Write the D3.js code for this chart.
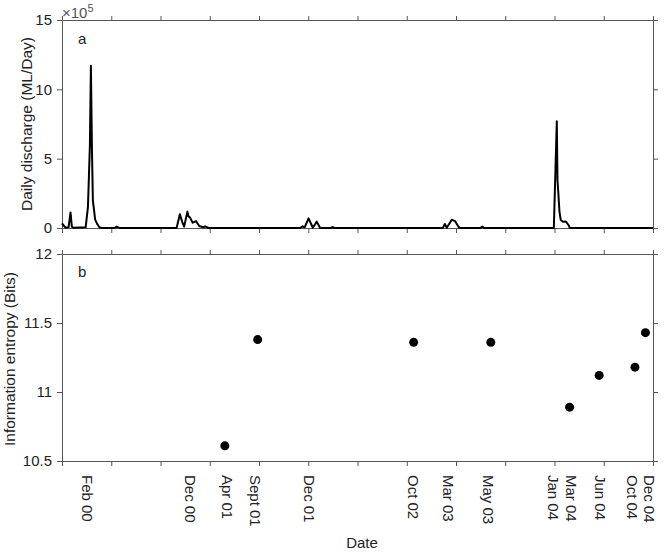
<!DOCTYPE html>
<html>
<head>
<meta charset="utf-8">
<script src="https://cdn.jsdelivr.net/npm/d3@7"></script>
<style>
  body { margin: 0; background: #fff; }
  svg { font-family: "Liberation Sans", Arial, sans-serif; }
  .axis path, .axis line { stroke: #555; }
</style>
</head>
<body>
<div id="graphicContainer"></div>
<script>
// discharge trace, day index from start of record, value in 1e5 ML/day
var qDays = [0, 6, 12, 20, 26, 30, 34, 72, 79, 85, 88, 91, 94, 101, 107, 114, 120,
  160, 167, 174, 349, 359, 366, 372, 382, 385, 390, 398, 408, 418, 430, 436, 446,
  725, 733, 739, 751, 764, 776, 786, 818, 824, 830,
  1160, 1166, 1172, 1187, 1197, 1207, 1212, 1274, 1280, 1286,
  1498, 1507, 1509, 1512, 1515, 1519, 1526, 1535, 1543, 1547, 1800]
var qVals = [0.34, 0.15, 0.02, 0.05, 1.12, 0.1, 0.02, 0.05, 1.5, 6, 11.7, 6, 2.0, 0.6, 0.3, 0.05, 0,
  0, 0.1, 0, 0, 0.99, 0.45, 0.1, 1.18, 0.85, 0.75, 0.38, 0.5, 0.14, 0.05, 0.12, 0,
  0, 0.12, 0.05, 0.70, 0.02, 0.46, 0, 0, 0.07, 0,
  0, 0.29, 0.02, 0.6, 0.5, 0.1, 0, 0, 0.1, 0,
  0, 7.7, 3.5, 2.4, 1.2, 0.58, 0.45, 0.46, 0.2, 0, 0]

// date labels on the shared x axis
var dateLabels = ["Feb 00", "Dec 00", "Apr 01", "Sept 01", "Dec 01", "Oct 02", "Mar 03",
  "May 03", "Jan 04", "Mar 04", "Jun 04", "Oct 04", "Dec 04"]
var labelDays = [76, 390, 503, 590, 754, 1069, 1176, 1297, 1495, 1552, 1638, 1736, 1790]

// information entropy points
var entropyDays = [496, 596, 1071, 1306, 1546, 1636, 1745, 1777]
var entropyBits = [10.61, 11.38, 11.36, 11.36, 10.89, 11.12, 11.18, 11.43]

var qTicks = [0, 5, 10, 15]
var hTicks = [10.5, 11, 11.5, 12]
var xTicks = d3.range(0, 1801, 150)

var width = 666, height = 555

var svg = d3.select("#graphicContainer").append("svg")
  .attr("width", width)
  .attr("height", height)

var x = d3.scaleLinear().domain([0, 1800]).range([62, 653])
var yQ = d3.scaleLinear().domain([0, 15]).range([228, 20])
var yH = d3.scaleLinear().domain([10.5, 12]).range([461, 254])

function frame(y, ticks, fmt) {
  var top = y.range()[1], bottom = y.range()[0]
  svg.append("g").attr("class", "axis")
    .attr("transform", `translate(0,${bottom})`)
    .call(d3.axisBottom(x).tickValues(xTicks).tickFormat("").tickSize(5).tickSizeOuter(0))
  svg.append("g").attr("class", "axis")
    .attr("transform", `translate(0,${top})`)
    .call(d3.axisTop(x).tickValues(xTicks).tickFormat("").tickSize(4).tickSizeOuter(0))
  svg.append("g").attr("class", "axis")
    .attr("transform", `translate(${x.range()[1]},0)`)
    .call(d3.axisRight(y).tickValues(ticks).tickFormat("").tickSize(5).tickSizeOuter(0))
  var left = svg.append("g").attr("class", "axis")
    .attr("transform", `translate(${x.range()[0]},0)`)
    .call(d3.axisLeft(y).tickValues(ticks).tickFormat(fmt).tickSize(5).tickSizeOuter(0).tickPadding(5))
  left.selectAll("text")
    .attr("font-size", 15)
    .attr("font-family", "Liberation Sans, Arial, sans-serif")
    .attr("fill", "#222")
}

frame(yQ, qTicks, d3.format("d"))
frame(yH, hTicks, d => d)

// discharge line
var line = d3.line()
  .x((d, i) => x(qDays[i]))
  .y(d => yQ(d))

svg.append("path")
  .datum(qVals)
  .attr("d", line)
  .attr("fill", "none")
  .attr("stroke", "#000")
  .attr("stroke-width", 2)
  .attr("stroke-linejoin", "round")

// entropy dots
svg.append("g")
  .selectAll("circle")
  .data(entropyBits)
  .enter()
  .append("circle")
  .attr("cx", (d, i) => x(entropyDays[i]))
  .attr("cy", d => yH(d))
  .attr("r", 4.5)
  .attr("fill", "#000")

// rotated date labels
svg.append("g")
  .selectAll("text")
  .data(dateLabels)
  .enter()
  .append("text")
  .attr("transform", (d, i) => `translate(${x(labelDays[i])},475) rotate(90)`)
  .attr("dy", "0.35em")
  .attr("font-size", 15)
  .attr("fill", "#222")
  .text(d => d)

// panel letters, exponent and titles
svg.append("text").attr("x", 78).attr("y", 44).attr("font-size", 15).attr("fill", "#222").text("a")
svg.append("text").attr("x", 78).attr("y", 277).attr("font-size", 15).attr("fill", "#222").text("b")

var expo = svg.append("text").attr("x", 62).attr("y", 18).attr("font-size", 15).attr("fill", "#555")
expo.append("tspan").text("×10")
expo.append("tspan").attr("font-size", 11).attr("dy", -6).text("5")

svg.append("text")
  .attr("transform", "translate(32,124) rotate(-90)")
  .attr("text-anchor", "middle")
  .attr("font-size", 15.5)
  .attr("fill", "#222")
  .text("Daily discharge (ML/Day)")

svg.append("text")
  .attr("transform", "translate(15,359) rotate(-90)")
  .attr("text-anchor", "middle")
  .attr("font-size", 15.5)
  .attr("fill", "#222")
  .text("Information entropy (Bits)")

svg.append("text")
  .attr("x", 362)
  .attr("y", 548)
  .attr("text-anchor", "middle")
  .attr("font-size", 15)
  .attr("fill", "#222")
  .text("Date")
</script>
</body>
</html>
